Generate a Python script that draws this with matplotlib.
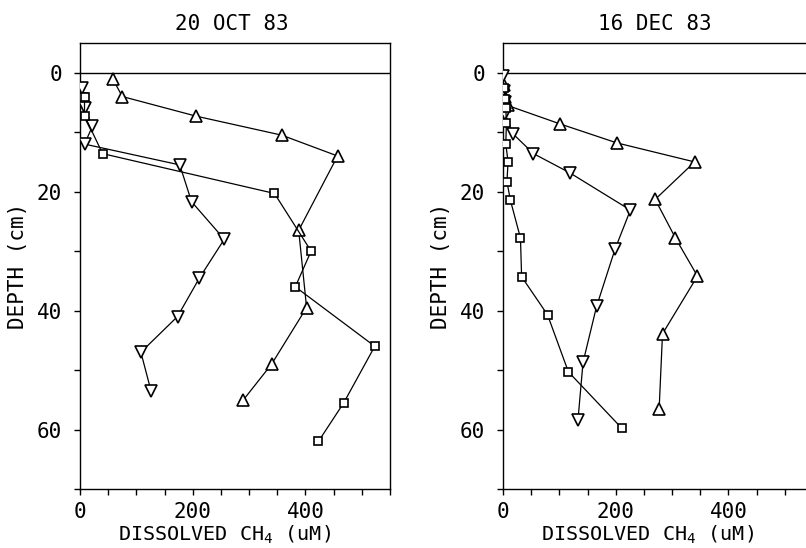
import matplotlib
matplotlib.use("Agg")
import matplotlib.pyplot as plt

# ---- data: 20 OCT 83 ----
oct_up_x = [58, 75, 206, 358, 457, 388, 402, 340, 290]
oct_up_y = [1, 4, 7.3, 10.5, 14, 26.5, 39.5, 49, 55]
oct_dn_x = [3, 4, 8, 22, 8, 177, 198, 256, 212, 173, 108, 126]
oct_dn_y = [2.5, 4.5, 6, 9, 12, 15.5, 21.7, 28, 34.5, 41, 47, 53.5]
oct_sq_x = [8, 8, 40, 345, 410, 382, 523, 468, 423]
oct_sq_y = [4, 7.2, 13.6, 20.3, 30, 36, 46, 55.5, 62]

# ---- data: 16 DEC 83 ----
dec_up_x = [2, 3, 8, 101, 202, 340, 270, 306, 345, 283, 277]
dec_up_y = [2, 4, 5.5, 8.6, 11.8, 15, 21.3, 27.8, 34.2, 43.9, 56.6]
dec_dn_x = [0, 2, 3, 4, 18, 54, 118, 226, 199, 166, 142, 133]
dec_dn_y = [0.5, 3, 5, 7, 10.3, 13.6, 16.8, 23.1, 29.6, 39.3, 48.7, 58.4]
dec_sq_x = [2, 3, 5, 6, 5, 9, 7, 13, 31, 33, 79, 116, 211]
dec_sq_y = [2.5, 4.5, 6, 8.5, 12, 15, 18.3, 21.4, 27.8, 34.3, 40.7, 50.3, 59.8]

titles = ["20 OCT 83", "16 DEC 83"]
xlabel = "DISSOLVED CH$_4$ (uM)"
ylabel = "DEPTH (cm)"
x_major = [0, 200, 400]
y_major = [0, 20, 40, 60]

plt.rcParams['font.family'] = ['DejaVu Sans Mono', 'DejaVu Sans']
plt.rcParams['mathtext.fontset'] = 'custom'
plt.rcParams['mathtext.rm'] = 'DejaVu Sans Mono'
plt.rcParams['mathtext.it'] = 'DejaVu Sans Mono'

fig = plt.figure(figsize=(8.06, 5.48), dpi=100)
W, H = 806, 548
ax1 = fig.add_axes([80 / W, (H - 489) / H, 310 / W, 446 / H])
ax2 = fig.add_axes([503 / W, (H - 489) / H, 310 / W, 446 / H])

panels = [
    (ax1, [(oct_up_x, oct_up_y, '^'), (oct_dn_x, oct_dn_y, 'v'), (oct_sq_x, oct_sq_y, 's')]),
    (ax2, [(dec_up_x, dec_up_y, '^'), (dec_dn_x, dec_dn_y, 'v'), (dec_sq_x, dec_sq_y, 's')]),
]

fs = 15
for (ax, series), title in zip(panels, titles):
    for xs, ys, m in series:
        ms = 8.5 if m in '^v' else 6
        ax.plot(xs, ys, color='black', lw=0.9, marker=m, ms=ms,
                mfc='white', mec='black', mew=1.2, zorder=3)
    ax.axhline(0, color='black', lw=1.0)
    ax.set_xlim(0, 550)
    ax.set_ylim(70, -5)
    ax.set_xticks(x_major)
    ax.set_xticks(range(0, 551, 50), minor=True)
    ax.set_yticks(y_major)
    ax.set_yticks(range(0, 71, 10), minor=True)
    ax.tick_params(which='both', direction='out', length=4, width=1, labelsize=fs)
    ax.tick_params(axis='y', pad=9)
    ax.tick_params(axis='x', pad=5)
    for s in ax.spines.values():
        s.set_linewidth(1.0)
    ax.set_title(title, fontsize=fs, pad=9, x=0.49)
    ax.set_xlabel(xlabel, fontsize=14.5, labelpad=3)
    ax.set_ylabel(ylabel, fontsize=fs, labelpad=6)
    ax.xaxis.set_label_coords(0.465, -0.078)

fig.savefig("out.png", dpi=100, facecolor='white')
